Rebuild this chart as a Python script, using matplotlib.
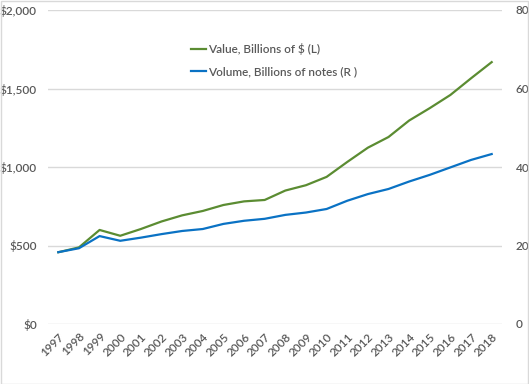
import matplotlib
matplotlib.use("Agg")
import matplotlib.pyplot as plt
from matplotlib.patches import Rectangle
from matplotlib.ticker import FuncFormatter

years = list(range(1997, 2019))
value_bn_usd = [457, 488, 599, 562, 605, 653, 692, 720, 758, 781, 790, 850, 884, 937,
                1032, 1123, 1191, 1296, 1375, 1459, 1565, 1668]
volume_bn_notes = [18.3, 19.3, 22.4, 21.2, 22.0, 22.9, 23.7, 24.2, 25.5, 26.3, 26.8,
                   27.8, 28.4, 29.3, 31.4, 33.1, 34.4, 36.3, 38.0, 39.9, 41.8, 43.3]
left_label = "Value, Billions of $ (L)"
right_label = "Volume, Billions of notes (R )"

W, H = 529, 384
fig = plt.figure(figsize=(W / 100, H / 100), dpi=100)
plt.rcParams['font.family'] = ['Lato', 'DejaVu Sans']
txt = '#595959'
fs = 8.5
wt = 'semibold'

x0, x1 = 48, 502
y_top, y_bot = 10, 324
ax = fig.add_axes([x0 / W, 1 - y_bot / H, (x1 - x0) / W, (y_bot - y_top) / H])
ax2 = ax.twinx()

l1, = ax.plot(years, value_bn_usd, color='#5B8C32', lw=1.6, label=left_label, zorder=3)
l2, = ax2.plot(years, volume_bn_notes, color='#0A72C4', lw=1.6, label=right_label, zorder=3)

ax.set_ylim(0, 2000)
ax2.set_ylim(0, 80)
ax.set_yticks([0, 500, 1000, 1500, 2000])
ax2.set_yticks([0, 20, 40, 60, 80])
ax.yaxis.set_major_formatter(FuncFormatter(lambda v, p: f"${int(v):,}"))
ax.set_xlim(1996.5, 2018.5)
ax.set_xticks(years)
ax.set_xticklabels([str(y) for y in years], rotation=45, ha='right', rotation_mode='anchor')

ax.grid(axis='y', color='#D9D9D9', lw=1)
ax.set_axisbelow(True)
for a in (ax, ax2):
    for s in a.spines.values():
        s.set_visible(False)
    a.tick_params(length=0, colors=txt, labelsize=fs)
    for lab in a.get_xticklabels() + a.get_yticklabels():
        lab.set_fontweight(wt)
ax.tick_params(axis='y', pad=8)
ax2.tick_params(axis='y', pad=10)
ax.tick_params(axis='x', pad=5)

leg = fig.legend(handles=[l1, l2], loc='upper left', bbox_to_anchor=(191 / W, 1 - 43 / H),
                 frameon=False, fontsize=fs, labelcolor=txt, handlelength=1.3,
                 handletextpad=0.15, labelspacing=0.95, borderaxespad=0, borderpad=0)
for t in leg.get_texts():
    t.set_fontweight(wt)

fig.patches.append(Rectangle((0.5 / W, 0.5 / H), 1 - 1.5 / W, 1 - 1.5 / H, transform=fig.transFigure,
                             fill=False, edgecolor='#D9D9D9', lw=1))
fig.savefig("out.png", dpi=100)
